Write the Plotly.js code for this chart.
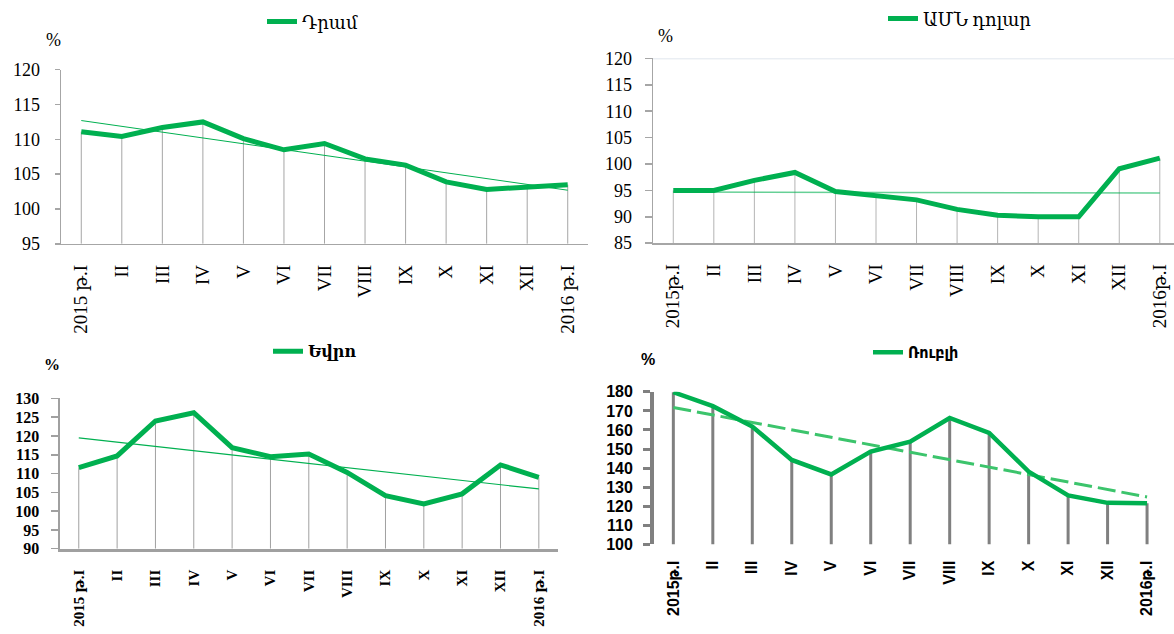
<!DOCTYPE html>
<html>
<head>
<meta charset="utf-8">
<script src="https://cdn.plot.ly/plotly-3.0.1.min.js"></script>
<style>html,body{margin:0;padding:0;background:#fff;}#chart{width:1174px;height:634px;}</style>
</head>
<body>
<div id="chart"></div>
<script>
// ---- data ----
const monthsA = ['2015 թ.I','II','III','IV','V','VI','VII','VIII','IX','X','XI','XII','2016 թ.I'];
const monthsB = ['2015թ.I','II','III','IV','V','VI','VII','VIII','IX','X','XI','XII','2016թ.I'];

const dramName = 'Դրամ';
const dramValues = [111.1, 110.4, 111.7, 112.5, 110.1, 108.5, 109.4, 107.2, 106.3, 103.9, 102.8, 103.2, 103.5];
const dramTrend = [112.7, 102.7];

const usdName = 'ԱՄՆ դոլար';
const usdValues = [95.0, 95.0, 96.9, 98.4, 94.8, 93.9, 93.2, 91.4, 90.3, 90.0, 90.0, 99.1, 101.1];
const usdTrend = [94.7, 94.5];

const eurName = 'Եվրո';
const eurValues = [111.6, 114.7, 124.0, 126.2, 116.9, 114.5, 115.2, 110.3, 104.1, 101.9, 104.6, 112.3, 109.0];
const eurTrend = [119.5, 105.9];

const rubName = 'Ռուբլի';
const rubValues = [179.8, 172.5, 161.8, 144.3, 136.7, 148.7, 153.9, 166.3, 158.5, 138.2, 125.7, 121.8, 121.6];
const rubTrend = [171.8, 124.9];

// ---- helpers ----
const W = 1174, H = 634;
const px = (a, b) => [a / W, b / W];
const py = (top, bottom) => [1 - bottom / H, 1 - top / H];
const idx = dramValues.map((_, i) => i);
const GREEN = '#00b050';

function dropLines(values, base, xa, ya, color, width) {
  const xs = [], ys = [];
  values.forEach((v, i) => { xs.push(i, i, null); ys.push(base, v, null); });
  return {x: xs, y: ys, xaxis: xa, yaxis: ya, mode: 'lines', type: 'scatter',
    line: {color: color, width: width}, hoverinfo: 'skip', showlegend: false};
}
function mainLine(values, name, xa, ya, leg, width) {
  return {x: idx, y: values, name: name, xaxis: xa, yaxis: ya, legend: leg,
    mode: 'lines', type: 'scatter', line: {color: GREEN, width: width}};
}
function trendLine(tr, xa, ya, color, width, dash) {
  return {x: [0, idx.length - 1], y: tr, xaxis: xa, yaxis: ya, mode: 'lines', type: 'scatter',
    line: {color: color, width: width, dash: dash || 'solid'}, hoverinfo: 'skip', showlegend: false};
}

const serif = 'Liberation Serif, DejaVu Serif, serif';
const boldSerif = 'Liberation Serif, DejaVu Serif, serif';
const narrow = 'Liberation Sans Narrow, Liberation Sans, DejaVu Sans Condensed, sans-serif';

const traces = [
  dropLines(dramValues, 95, 'x', 'y', '#a6a6a6', 1),
  trendLine(dramTrend, 'x', 'y', GREEN, 1),
  mainLine(dramValues, dramName, 'x', 'y', 'legend', 5),

  dropLines(usdValues, 85, 'x2', 'y2', '#b4b4b4', 1),
  trendLine(usdTrend, 'x2', 'y2', 'rgba(0,176,80,0.6)', 1.5),
  mainLine(usdValues, usdName, 'x2', 'y2', 'legend2', 5),

  dropLines(eurValues, 90, 'x3', 'y3', '#a0a0a0', 1),
  trendLine(eurTrend, 'x3', 'y3', GREEN, 1.2),
  mainLine(eurValues, eurName, 'x3', 'y3', 'legend3', 5),

  dropLines(rubValues, 100, 'x4', 'y4', '#808080', 3),
  trendLine(rubTrend, 'x4', 'y4', '#3cc46c', 3, '18px,6px'),
  mainLine(rubValues, rubName, 'x4', 'y4', 'legend4', 4.5)
];

function xAxis(dom, anchor, labels, font, range, lineColor, lineWidth, showline) {
  return {domain: dom, anchor: anchor, range: range, tickvals: idx, ticktext: labels,
    tickangle: -90, showgrid: false, zeroline: false, showline: showline,
    linecolor: lineColor, linewidth: lineWidth, ticks: '', tickfont: font,
    ticklabelstandoff: 12, fixedrange: true};
}
function yAxis(dom, anchor, range, dtick, font, lineColor, lineWidth, ticklen, tickwidth, standoff) {
  return {domain: dom, anchor: anchor, range: range, dtick: dtick, showgrid: false, zeroline: false,
    showline: true, linecolor: lineColor, linewidth: lineWidth, ticks: 'outside',
    ticklen: ticklen, tickwidth: tickwidth, tickcolor: lineColor, tickfont: font,
    ticklabelstandoff: standoff, fixedrange: true};
}

const f1x = {family: serif, size: 19, color: '#000'};
const f1y = {family: serif, size: 18, color: '#000'};
const f3x = {family: boldSerif, size: 15, color: '#000', weight: 'bold'};
const f3y = {family: boldSerif, size: 16, color: '#000', weight: 'bold'};
const f4x = {family: narrow, size: 16, color: '#000', weight: 'bold'};
const f4y = {family: narrow, size: 16, color: '#000', weight: 'bold'};

function legendAt(xpx, ypx, font) {
  return {x: xpx / W, y: 1 - ypx / H, xanchor: 'left', yanchor: 'middle',
    bgcolor: 'rgba(0,0,0,0)', borderwidth: 0, font: font, itemwidth: 30};
}
function pct(xpx, ypx, font) {
  return {text: '%', xref: 'paper', yref: 'paper', x: xpx / W, y: 1 - ypx / H,
    xanchor: 'center', yanchor: 'middle', showarrow: false, font: font};
}

const layout = {
  width: W, height: H,
  margin: {l: 0, r: 0, t: 0, b: 0},
  paper_bgcolor: '#fff', plot_bgcolor: 'rgba(0,0,0,0)',
  showlegend: true,
  xaxis: xAxis(px(61, 588), 'y', monthsA, f1x, [-0.5, 12.5], '#a6a6a6', 1.5, true),
  yaxis: yAxis(py(67, 242), 'x', [95, 120], 5, f1y, '#a6a6a6', 1.5, 5, 1.5, 11),
  xaxis2: xAxis(px(653, 1174), 'y2', monthsB, f1x, [-0.5, 12.35], '#a6a6a6', 1.5, true),
  yaxis2: yAxis(py(55.7, 241.3), 'x2', [85, 120], 5, f1y, '#a6a6a6', 1.5, 7, 1.5, 9),
  xaxis3: xAxis(px(59.6, 558), 'y3', monthsA, f3x, [-0.5, 12.5], '#a0a0a0', 3, true),
  yaxis3: yAxis(py(397.3, 548.3), 'x3', [90, 130], 5, f3y, '#a0a0a0', 1.2, 7, 1.5, 9),
  xaxis4: xAxis(px(653.6, 1166.8), 'y4', monthsB, f4x, [-0.5, 12.5], '#808080', 1, false),
  yaxis4: yAxis(py(390.7, 544), 'x4', [100, 180], 10, f4y, '#808080', 3.5, 7, 3, 7),
  legend: legendAt(262, 19, {family: serif, size: 18, color: '#000'}),
  legend2: legendAt(883, 16, {family: serif, size: 18, color: '#000'}),
  legend3: legendAt(268, 350, {family: boldSerif, size: 16, color: '#000', weight: 'bold'}),
  legend4: legendAt(868, 351, {family: narrow, size: 16, color: '#000', weight: 'bold'}),
  shapes: [
    {type: 'line', xref: 'x2 domain', yref: 'y2', x0: 0, x1: 1, y0: 120, y1: 120,
      line: {color: '#d6dee8', width: 1.5}, layer: 'below'}
  ],
  annotations: [
    pct(53, 37, {family: serif, size: 18, color: '#000'}),
    pct(665, 33, {family: serif, size: 18, color: '#000'}),
    pct(52, 363, {family: boldSerif, size: 16, color: '#000', weight: 'bold'}),
    pct(648, 358, {family: narrow, size: 16, color: '#000', weight: 'bold'})
  ]
};

Plotly.newPlot('chart', traces, layout, {displayModeBar: false, staticPlot: true});
</script>
</body>
</html>
